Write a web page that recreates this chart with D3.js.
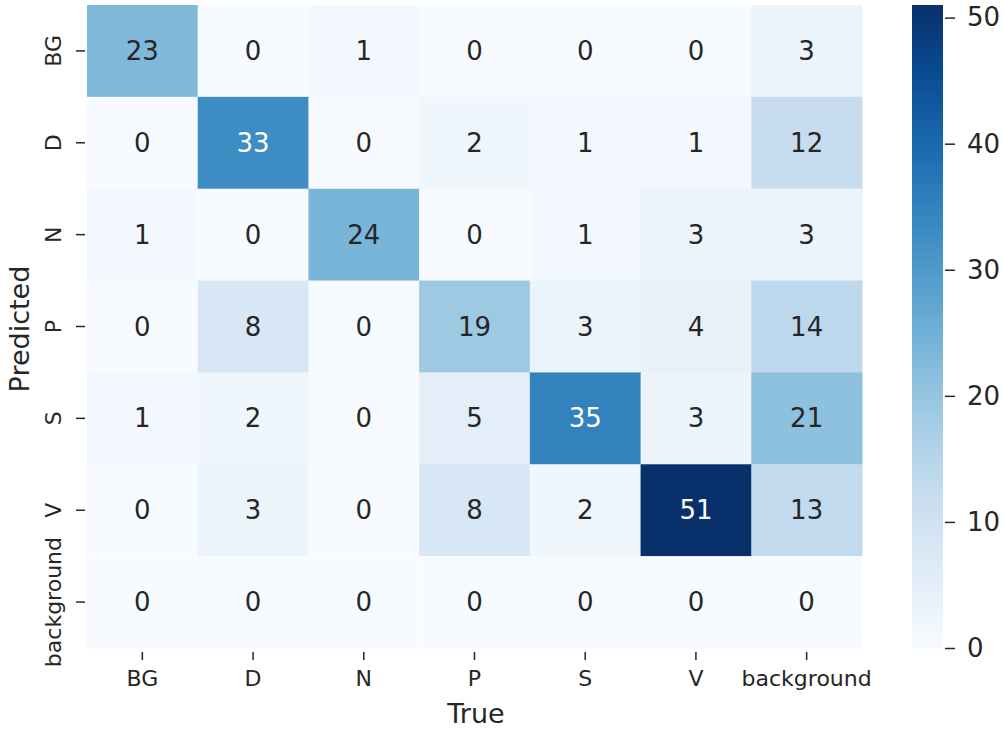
<!DOCTYPE html>
<html>
<head>
<meta charset="utf-8">
<script src="https://cdn.jsdelivr.net/npm/d3@7"></script>
<style>
  html, body { margin: 0; padding: 0; background: #fff; }
  svg { display: block; font-family: "DejaVu Sans", sans-serif; }
</style>
</head>
<body>
<svg id="chart" width="1005" height="729"></svg>
<script>
const trueLabels = ["BG", "D", "N", "P", "S", "V", "background"];
const predLabels = ["BG", "D", "N", "P", "S", "V", "background"];
const rowBG = [23, 0, 1, 0, 0, 0, 3];
const rowD = [0, 33, 0, 2, 1, 1, 12];
const rowN = [1, 0, 24, 0, 1, 3, 3];
const rowP = [0, 8, 0, 19, 3, 4, 14];
const rowS = [1, 2, 0, 5, 35, 3, 21];
const rowV = [0, 3, 0, 8, 2, 51, 13];
const rowBackground = [0, 0, 0, 0, 0, 0, 0];
const matrix = [rowBG, rowD, rowN, rowP, rowS, rowV, rowBackground];
const colorbarTicks = [0, 10, 20, 30, 40, 50];

(function () {
const svg = d3.select("#chart");
const pLeft = 87, pRight = 862, pTop = 5, pBottom = 648;

const cells = [];
matrix.forEach((row, i) => row.forEach((v, j) => cells.push({ r: predLabels[i], c: trueLabels[j], v })));
const vmax = d3.max(cells, d => d.v);
const vmin = d3.min(cells, d => d.v);

const x = d3.scaleBand().domain(trueLabels).range([pLeft, pRight]);
const y = d3.scaleBand().domain(predLabels).range([pTop, pBottom]);
const color = d3.scaleSequential(d3.interpolateBlues).domain([vmin, vmax]);

svg.append("g").selectAll("rect").data(cells).join("rect")
  .attr("x", d => x(d.c)).attr("y", d => y(d.r))
  .attr("width", x.bandwidth() + 0.5).attr("height", y.bandwidth() + 0.5)
  .attr("fill", d => color(d.v));

function textColor(v) {
  const c = d3.rgb(color(v));
  const lin = u => { u /= 255; return u <= 0.03928 ? u / 12.92 : Math.pow((u + 0.055) / 1.055, 2.4); };
  const lum = 0.2126 * lin(c.r) + 0.7152 * lin(c.g) + 0.0722 * lin(c.b);
  return lum > 0.3 ? "#262626" : "#ffffff";
}

svg.append("g").selectAll("text").data(cells).join("text")
  .attr("x", d => x(d.c) + x.bandwidth() / 2)
  .attr("y", d => y(d.r) + y.bandwidth() / 2)
  .attr("text-anchor", "middle").attr("dominant-baseline", "central")
  .attr("font-size", 26).attr("fill", d => textColor(d.v))
  .text(d => d.v);

// x axis
const xAxis = svg.append("g").attr("transform", `translate(0,${pBottom})`)
  .call(d3.axisBottom(x).tickSize(8).tickPadding(14));
xAxis.select(".domain").remove();
xAxis.selectAll(".tick line").attr("stroke", "#262626").attr("stroke-width", 1.5).attr("transform", "translate(0,4)");
xAxis.selectAll(".tick text").attr("font-size", 22).attr("fill", "#262626")
  .attr("font-family", "DejaVu Sans").attr("dy", "0.71em");

// y axis
const yAxis = svg.append("g").attr("transform", `translate(${pLeft},0)`)
  .call(d3.axisLeft(y).tickSize(0));
yAxis.select(".domain").remove();
yAxis.selectAll(".tick line").remove();
yAxis.selectAll(".tick").append("line")
  .attr("x1", -11).attr("x2", -2).attr("stroke", "#262626").attr("stroke-width", 1.5);
yAxis.selectAll(".tick text")
  .attr("font-size", 22).attr("fill", "#262626").attr("font-family", "DejaVu Sans")
  .attr("x", null).attr("dy", null)
  .attr("text-anchor", "middle")
  .attr("transform", "translate(-26,0) rotate(-90)");

// axis titles
svg.append("text").attr("x", 476).attr("y", 723).attr("text-anchor", "middle")
  .attr("font-size", 27).attr("fill", "#262626").text("True");
svg.append("text").attr("transform", "translate(29,329) rotate(-90)").attr("text-anchor", "middle")
  .attr("font-size", 27).attr("fill", "#262626").text("Predicted");

// colorbar
const cbX = 912, cbW = 31;
const cbScale = d3.scaleLinear().domain([vmin, vmax]).range([pBottom, pTop]);
const defs = svg.append("defs");
const grad = defs.append("linearGradient").attr("id", "cbgrad")
  .attr("x1", 0).attr("y1", 1).attr("x2", 0).attr("y2", 0);
d3.range(0, 1.0001, 0.05).forEach(t => {
  grad.append("stop").attr("offset", t).attr("stop-color", color(vmin + t * (vmax - vmin)));
});
svg.append("rect").attr("x", cbX).attr("y", pTop).attr("width", cbW).attr("height", pBottom - pTop)
  .attr("fill", "url(#cbgrad)");
const cbAxis = svg.append("g").attr("transform", `translate(${cbX + cbW},0)`)
  .call(d3.axisRight(cbScale).tickValues(colorbarTicks).tickSize(0).tickPadding(24));
cbAxis.select(".domain").remove();
cbAxis.selectAll(".tick").append("line")
  .attr("x1", 2).attr("x2", 12).attr("stroke", "#262626").attr("stroke-width", 1.5);
cbAxis.selectAll(".tick text").attr("font-size", 26).attr("fill", "#262626")
  .attr("font-family", "DejaVu Sans");
})();
</script>
</body>
</html>
